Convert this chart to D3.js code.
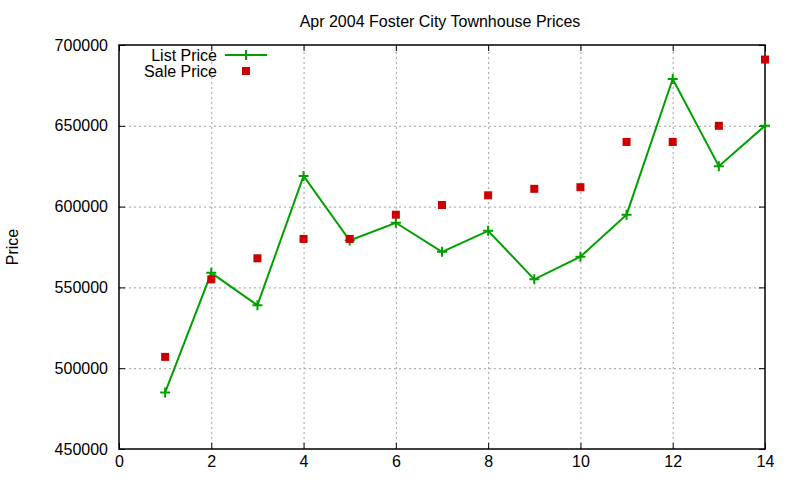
<style>
body {margin:0; background:#fff;}
#chart text {font-family:'Liberation Sans',Arial,sans-serif; font-size:16px; fill:#000;}
.grid line {stroke:#a0a0a0; stroke-dasharray:2,3; stroke-width:1;}
.grid path {stroke:none;}
.axis path, .axis line {stroke:#000; stroke-width:1;}
</style>
<script src='https://d3js.org/d3.v7.min.js'></script>
<svg id='chart'></svg><script>
var months=[1,2,3,4,5,6,7,8,9,10,11,12,13,14];
var listPrice=[485000,559000,539000,619000,579000,590000,572000,585000,555000,569000,595000,679000,625000,650000];
var salePrice=[507000,555000,568000,580000,580000,595000,601000,607000,611000,612000,640000,640000,650000,691000];
var xTicks=[0,2,4,6,8,10,12,14];
var yTicks=[450000,500000,550000,600000,650000,700000];

var margin={top:45,right:35,bottom:31,left:119},
    width=800-margin.left-margin.right,
    height=480-margin.top-margin.bottom;
var green='#00a000', red='#cc0000';

var x=d3.scaleLinear().domain([0,14]).range([0,width]),
    y=d3.scaleLinear().domain([450000,700000]).range([height,0]);

var root=d3.select('#chart').attr('width',800).attr('height',480);
var svg=root.append('g').attr('transform','translate('+margin.left+','+margin.top+')');

// grid
svg.append('g').attr('class','grid').attr('transform','translate(0,'+height+')')
   .call(d3.axisBottom(x).tickValues(xTicks.slice(1,-1)).tickSize(-height).tickFormat(''));
svg.append('g').attr('class','grid')
   .call(d3.axisLeft(y).tickValues(yTicks.slice(1,-1)).tickSize(-width).tickFormat(''));

// axes (ticks pointing inward, mirrored)
svg.append('g').attr('class','axis').attr('transform','translate(0,'+height+')')
   .call(d3.axisBottom(x).tickValues(xTicks).tickSizeInner(-6).tickSizeOuter(0).tickPadding(7).tickFormat(d3.format('d')))
   .call(g=>g.select('.domain').remove());
svg.append('g').attr('class','axis')
   .call(d3.axisLeft(y).tickValues(yTicks).tickSizeInner(-6).tickSizeOuter(0).tickPadding(11).tickFormat(d3.format('d')))
   .call(g=>g.select('.domain').remove());
svg.append('g').attr('class','axis')
   .call(d3.axisTop(x).tickValues(xTicks).tickSizeInner(-6).tickSizeOuter(0).tickFormat(''))
   .call(g=>g.select('.domain').remove());
svg.append('g').attr('class','axis').attr('transform','translate('+width+',0)')
   .call(d3.axisRight(y).tickValues(yTicks).tickSizeInner(-6).tickSizeOuter(0).tickFormat(''))
   .call(g=>g.select('.domain').remove());
svg.selectAll('.axis text').attr('fill','#000');
svg.append('rect').attr('width',width).attr('height',height)
   .attr('fill','none').attr('stroke','#000').attr('stroke-width',1.5);

// list price line
var line=d3.line().x((d,i)=>x(months[i])).y(d=>y(d));
svg.append('path').datum(listPrice).attr('d',line)
   .attr('fill','none').attr('stroke',green).attr('stroke-width',2);
function plus(g,cx,cy){
  g.append('path').attr('d','M'+(cx-5)+','+cy+'h10M'+cx+','+(cy-5)+'v10')
   .attr('stroke',green).attr('stroke-width',2);
}
listPrice.forEach((d,i)=>plus(svg,x(months[i]),y(d)));

// sale price squares
svg.selectAll('rect.sale').data(salePrice).enter().append('rect').attr('class','sale')
   .attr('x',(d,i)=>x(months[i])-4).attr('y',d=>y(d)-4)
   .attr('width',8).attr('height',8).attr('fill',red);

// legend
var lg=root.append('g');
lg.append('text').attr('x',217).attr('y',61).attr('text-anchor','end').text('List Price');
lg.append('line').attr('x1',225).attr('x2',267).attr('y1',55).attr('y2',55)
  .attr('stroke',green).attr('stroke-width',2);
plus(lg,246,55);
lg.append('text').attr('x',217).attr('y',77).attr('text-anchor','end').text('Sale Price');
lg.append('rect').attr('x',242).attr('y',67).attr('width',8).attr('height',8).attr('fill',red);

// title & y label
root.append('text').attr('x',440).attr('y',27).attr('text-anchor','middle')
    .text('Apr 2004 Foster City Townhouse Prices');
root.append('text').attr('transform','translate(18,247) rotate(-90)')
    .attr('text-anchor','middle').text('Price');
</script>
